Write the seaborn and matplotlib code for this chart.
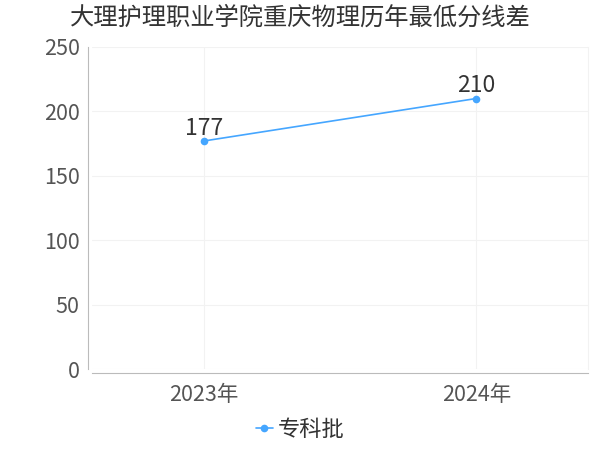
import matplotlib
matplotlib.use('Agg')
import matplotlib.pyplot as plt
import seaborn as sns
import pandas as pd

years = ['2023年', '2024年']
scores = [177, 210]
series_name = '专科批'
title = '大理护理职业学院重庆物理历年最低分线差'

sns.set_style('white')
plt.rcParams['font.family'] = ['Noto Sans CJK SC', 'DejaVu Sans']

df = pd.DataFrame({'year': years, 'score': scores, 'batch': series_name})

fig = plt.figure(figsize=(6, 4.5), dpi=100)
ax = fig.add_axes([0.1533, 0.18, 0.8267, 0.7156])

line_color = '#45a6ff'
sns.lineplot(data=df, x='year', y='score', hue='batch', palette=[line_color],
             marker='o', markersize=5.5, markeredgewidth=0, linewidth=1.2, ax=ax)

for i, v in enumerate(scores):
    ax.annotate(str(v), (i, v), xytext=(0, 1), textcoords='offset points',
                ha='center', va='bottom', fontsize=16.5, color='#333333')

ax.set_xlim(-0.41, 1.41)
ax.set_ylim(0, 250)
ax.set_yticks([0, 50, 100, 150, 200, 250])
ax.set_xlabel('')
ax.set_ylabel('')

ax.grid(True, color='#f2f2f2', linewidth=0.8)
ax.set_axisbelow(True)
ax.spines['top'].set_visible(False)
ax.spines['right'].set_color('#f2f2f2')
ax.spines['left'].set_color('#bbbbbb')
ax.spines['bottom'].set_color('#bbbbbb')
ax.spines['left'].set_position(('outward', 3))
ax.spines['bottom'].set_position(('outward', 3))
ax.tick_params(axis='both', colors='#bbbbbb', labelcolor='#555555', labelsize=15.5, length=3, width=0.8)
ax.tick_params(axis='x', pad=5)
ax.tick_params(axis='y', pad=3)

fig.text(0.5, 0.96, title, ha='center', va='center', fontsize=17.5, color='#333333')

ax.legend(loc='center', bbox_to_anchor=(0.5, 0.045), bbox_transform=fig.transFigure,
          frameon=False, fontsize=16, handlelength=0.8, handletextpad=0.2,
          labelcolor='#333333')

fig.savefig('out.png', dpi=100)
